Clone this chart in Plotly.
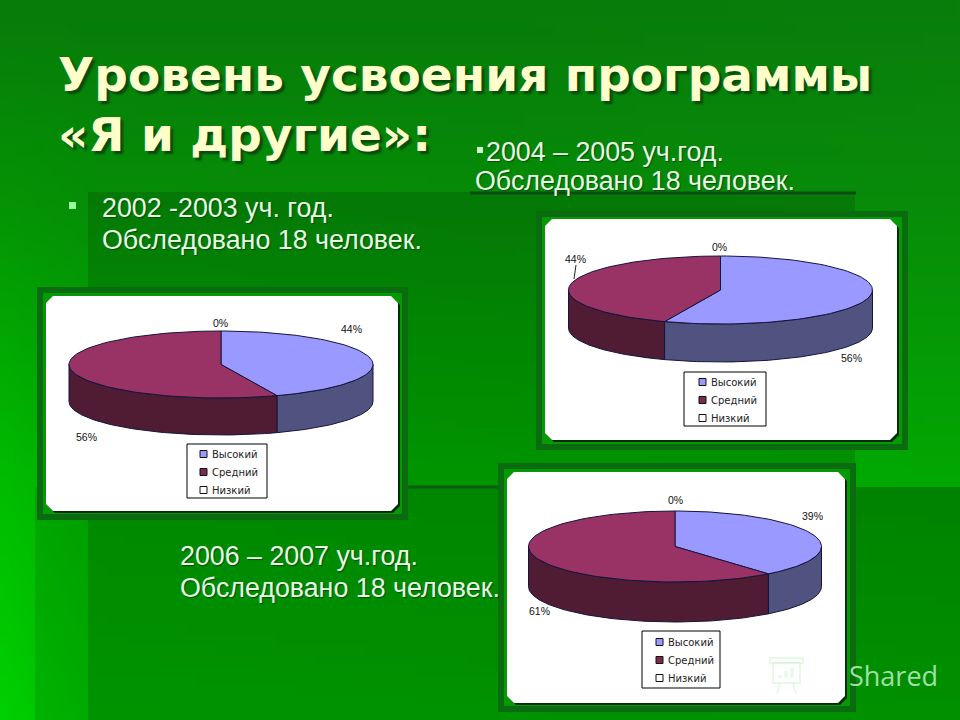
import base64, struct, zlib
import numpy as np
import plotly.graph_objects as go

CATEGORIES = ["Высокий", "Средний", "Низкий"]
VALUES_2002 = [44, 56, 0]
VALUES_2004 = [56, 44, 0]
VALUES_2006 = [39, 61, 0]
TITLE_LINES = ["Уровень усвоения программы", "«Я и другие»:"]
SURVEYED = "Обследовано 18 человек."
YEAR_2002 = "2002 -2003 уч. год."
YEAR_2004 = "2004 – 2005 уч.год."
YEAR_2006 = "2006 – 2007 уч.год."

TOP_COLORS = ["#9999ff", "#993366", "#ffffcc"]
SIDE_COLORS = ["#50537f", "#4f1c33", "#ffffcc"]
LEGEND_COLORS = ["#9999ff", "#7a2c50", "#ffffff"]
OUTLINE = "#14143c"

# layout of each panel, in page pixels
PANELS = [
    dict(values=VALUES_2002, frame=(37, 287, 408, 520), white=(46, 296, 398, 511),
         centre=(221, 364.5), radii=(152, 33.5), depth=37,
         labels=[(351, 329), (86, 437), (220, 323)],
         legend=(187, 444, 267, 498), swatch_x=200, rows=(454, 472, 490)),
    dict(values=VALUES_2004, frame=(536, 211, 908, 450), white=(545, 219, 897, 440),
         centre=(720.5, 290), radii=(152, 34), depth=38,
         labels=[(851, 358), (575, 259), (719, 247)],
         legend=(684, 372, 766, 426), swatch_x=699, rows=(382, 400, 418)),
    dict(values=VALUES_2006, frame=(498, 463, 856, 712), white=(507, 472, 845, 703),
         centre=(675, 546.5), radii=(146.5, 35.5), depth=40,
         labels=[(812, 516), (539, 611), (675, 500)],
         legend=(642, 631, 720, 688), swatch_x=656, rows=(642, 660, 678)),
]


def gradient_png():
    xs = [0, 35, 90, 480, 960]
    ys = [0, 200, 480, 720]
    g = np.array([[124, 124, 124, 124, 126],
                  [148, 146, 142, 140, 140],
                  [188, 182, 176, 172, 168],
                  [208, 200, 190, 188, 186]], float)
    r = np.array([[8, 8, 8, 8, 10],
                  [4, 4, 6, 6, 8],
                  [0, 0, 0, 0, 2],
                  [0, 0, 0, 0, 0]], float)
    w, h = 96, 72
    px, py = np.meshgrid(np.linspace(0, 960, w), np.linspace(0, 720, h))
    def interp(t):
        cols = np.array([np.interp(px[0], xs, row) for row in t])
        return np.array([np.interp(py[:, 0], ys, cols[:, i]) for i in range(w)]).T
    R, G = interp(r), interp(g)
    B = R * 1.2
    rgb = np.dstack([R, G, B]).clip(0, 255).astype(np.uint8)
    raw = b"".join(b"\x00" + rgb[i].tobytes() for i in range(h))
    def chunk(tag, data):
        c = struct.pack(">I", len(data)) + tag + data
        return c + struct.pack(">I", zlib.crc32(tag + data) & 0xffffffff)
    png = b"\x89PNG\r\n\x1a\n" + chunk(b"IHDR", struct.pack(">IIBBBBB", w, h, 8, 2, 0, 0, 0)) \
        + chunk(b"IDAT", zlib.compress(raw)) + chunk(b"IEND", b"")
    return "data:image/png;base64," + base64.b64encode(png).decode()


def rounded(x0, y0, x1, y1, r=7):
    return (f"M{x0+r},{y0} L{x1-r},{y0} L{x1},{y0+r} L{x1},{y1-r} L{x1-r},{y1} "
            f"L{x0+r},{y1} L{x0},{y1-r} L{x0},{y0+r} Z")


fig = go.Figure()
shapes = [
    dict(type="rect", x0=35, y0=487, x1=960, y1=720, fillcolor="rgba(0,0,0,0.10)", line_width=0, layer="below"),
    dict(type="rect", x0=88, y0=192, x1=855, y1=720, fillcolor="rgba(0,0,0,0.13)", line_width=0, layer="below"),
    dict(type="rect", x0=855, y0=487, x1=960, y1=720, fillcolor="rgba(0,0,0,0.13)", line_width=0, layer="below"),
    dict(type="line", x0=470, y0=193, x1=856, y1=193, line=dict(color="#0a4d10", width=3), layer="below"),
    dict(type="line", x0=405, y0=487, x1=500, y1=487, line=dict(color="#0a5d10", width=3), layer="below"),
]
annotations = []


def text(x, y, s, size, color, family="Liberation Sans", anchor="left", bold=False, shadow=None):
    annotations.append(dict(
        x=x, y=y, xref="x", yref="y", text=f"<b>{s}</b>" if bold else s, showarrow=False,
        xanchor=anchor, yanchor="middle", align=anchor,
        font=dict(size=size, color=color, family=family, shadow=shadow or "none")))


for panel in PANELS:
    fx0, fy0, fx1, fy1 = panel["frame"]
    wx0, wy0, wx1, wy1 = panel["white"]
    shapes.append(dict(type="rect", x0=fx0 + 3, y0=fy0 + 3, x1=fx1 - 3, y1=fy1 - 3,
                       line=dict(color="#0b6b10", width=6), fillcolor="#049a04", layer="below"))
    shapes.append(dict(type="path", path=rounded(wx0 + 2, wy0 + 2, wx1 + 2, wy1 + 2),
                       fillcolor="#062a0a", line_width=0, layer="below"))
    shapes.append(dict(type="path", path=rounded(wx0, wy0, wx1, wy1),
                       fillcolor="#ffffff", line_width=0, layer="below"))

    cx, cy = panel["centre"]
    rx, ry = panel["radii"]
    depth = panel["depth"]
    values = panel["values"]
    edges = np.cumsum([0] + values) / sum(values) * 360.0

    def arc(a0, a1, dy=0.0):
        t = np.radians(np.linspace(a0, a1, 90))
        return cx + rx * np.sin(t), cy - ry * np.cos(t) + dy

    for i, name in enumerate(CATEGORIES):
        if values[i] == 0:
            continue
        a0, a1 = max(edges[i], 90), min(edges[i + 1], 270)
        if a1 > a0:
            xt, yt = arc(a0, a1)
            xb, yb = arc(a0, a1, depth)
            fig.add_trace(go.Scatter(
                x=np.r_[xt, xb[::-1], xt[0]], y=np.r_[yt, yb[::-1], yt[0]], mode="lines",
                fill="toself", fillcolor=SIDE_COLORS[i], line=dict(color=OUTLINE, width=1),
                name=name, showlegend=False, hoverinfo="skip"))
    for i, name in enumerate(CATEGORIES):
        if values[i] == 0:
            continue
        xt, yt = arc(edges[i], edges[i + 1])
        fig.add_trace(go.Scatter(
            x=np.r_[cx, xt, cx], y=np.r_[cy, yt, cy], mode="lines",
            fill="toself", fillcolor=TOP_COLORS[i], line=dict(color=OUTLINE, width=1),
            name=name, showlegend=False, hoverinfo="skip"))

    for v, (lx, ly) in zip(values, panel["labels"]):
        text(lx, ly, f"{v}%", 10.5, "#111111", anchor="center")

    lx0, ly0, lx1, ly1 = panel["legend"]
    shapes.append(dict(type="rect", x0=lx0, y0=ly0, x1=lx1, y1=ly1, fillcolor="#ffffff",
                       line=dict(color="#000000", width=1)))
    sx = panel["swatch_x"]
    for name, col, ry_ in zip(CATEGORIES, LEGEND_COLORS, panel["rows"]):
        shapes.append(dict(type="rect", x0=sx, y0=ry_ - 3.5, x1=sx + 7, y1=ry_ + 3.5,
                           fillcolor=col, line=dict(color="#111111", width=1)))
        text(sx + 10, ry_, name, 10, "#222222", family="DejaVu Sans")

# leader line of the 44% label
shapes.append(dict(type="line", x0=576, y0=265, x1=574, y1=279, line=dict(color="#222222", width=1)))

# body bullets
shapes.append(dict(type="rect", x0=69, y0=202, x1=76, y1=209, fillcolor="#99ff99", line_width=0, layer="below"))
shapes.append(dict(type="rect", x0=477, y0=147, x1=483, y1=153, fillcolor="#ccffcc", line_width=0, layer="below"))

# title and body text
TITLE_SHADOW = "3px 3px 2px #0a4a10"
BODY_SHADOW = "1px 1px 1px #0a4a10"
text(56, 74, TITLE_LINES[0], 47, "#ffffcc", family="DejaVu Sans", bold=True, shadow=TITLE_SHADOW)
text(56, 134, TITLE_LINES[1], 47, "#ffffcc", family="DejaVu Sans", bold=True, shadow=TITLE_SHADOW)
BODY = "#e6ffe0"
text(100, 208, YEAR_2002, 26.8, BODY, shadow=BODY_SHADOW)
text(100, 240, SURVEYED, 26.8, BODY, shadow=BODY_SHADOW)
text(484, 152, YEAR_2004, 26.8, BODY, shadow=BODY_SHADOW)
text(473, 181, SURVEYED, 26.8, BODY, shadow=BODY_SHADOW)
text(178, 556, YEAR_2006, 26.8, BODY, shadow=BODY_SHADOW)
text(178, 588, SURVEYED, 26.8, BODY, shadow=BODY_SHADOW)

# watermark
WM = "rgba(215,245,215,0.6)"
text(847, 675, "Shared", 27, "rgba(190,240,195,0.85)", family="Open Sans")
shapes += [
    dict(type="rect", x0=770, y0=658, x1=803, y1=663, line=dict(color=WM, width=2)),
    dict(type="rect", x0=773, y0=663, x1=800, y1=683, line=dict(color=WM, width=2)),
    dict(type="line", x0=780, y0=683, x1=777, y1=694, line=dict(color=WM, width=2)),
    dict(type="line", x0=793, y0=683, x1=796, y1=694, line=dict(color=WM, width=2)),
    dict(type="line", x0=780, y0=678, x1=780, y1=675, line=dict(color=WM, width=3)),
    dict(type="line", x0=786, y0=678, x1=786, y1=671, line=dict(color=WM, width=3)),
    dict(type="line", x0=792, y0=678, x1=792, y1=668, line=dict(color=WM, width=3)),
]

fig.update_layout(
    width=960, height=720, margin=dict(l=0, r=0, t=0, b=0), autosize=False,
    paper_bgcolor="#078a0c", plot_bgcolor="rgba(0,0,0,0)", showlegend=False,
    xaxis=dict(range=[0, 960], visible=False, fixedrange=True),
    yaxis=dict(range=[720, 0], visible=False, fixedrange=True),
    images=[dict(source=gradient_png(), xref="paper", yref="paper", x=0, y=1, sizex=1, sizey=1,
                 sizing="stretch", layer="below", xanchor="left", yanchor="top")],
    shapes=shapes, annotations=annotations,
)
fig.write_html("out.html", config=dict(displayModeBar=False),
               post_script="document.body.style.margin='0';document.body.style.overflow='hidden';")
